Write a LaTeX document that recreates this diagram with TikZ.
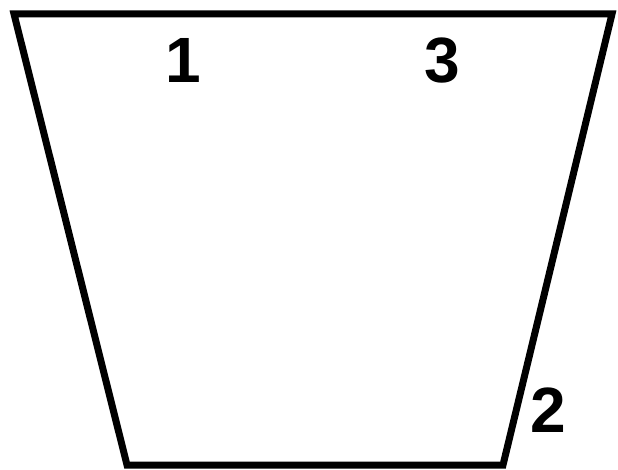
\documentclass[tikz,border=0pt]{standalone}
\usepackage{fontspec}
\setmainfont{Liberation Sans}
\begin{document}
\begin{tikzpicture}[x=1pt,y=1pt,
  edge/.style={draw=black,line width=7pt,line join=miter},
  lbl/.style={inner sep=0pt,anchor=base,font=\fontsize{64}{64}\selectfont\bfseries}]
\useasboundingbox (0,0) rectangle (618,469);
\coordinate (tl) at (14,455);
\coordinate (tr) at (612,455);
\coordinate (br) at (503,4);
\coordinate (bl) at (127,4);
\draw[edge] (tl) -- (tr) -- (br) -- (bl) -- cycle;
\node[lbl] (n1) at (183,386) {1};
\node[lbl] (n3) at (442,386) {3};
\node[lbl] (n2) at (548,37) {2};
\end{tikzpicture}
\end{document}
